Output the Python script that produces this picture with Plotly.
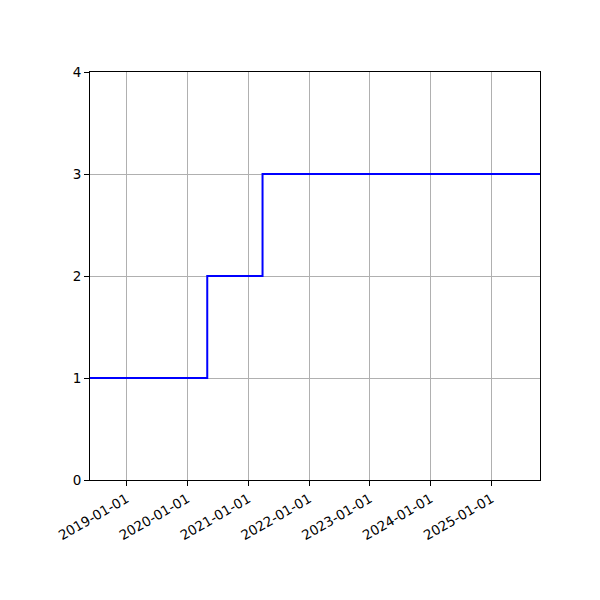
import plotly.graph_objects as go

# step data (value holds until next date)
dates = ["2018-05-27", "2020-04-30", "2021-03-28", "2025-10-19"]
values = [1, 2, 3, 3]
tick_dates = ["2019-01-01", "2020-01-01", "2021-01-01", "2022-01-01",
              "2023-01-01", "2024-01-01", "2025-01-01"]

fig = go.Figure()
fig.add_trace(go.Scatter(x=dates, y=values, mode='lines', line_shape='hv',
                         line=dict(color='#0000ff', width=2), showlegend=False))

axis_common = dict(
    showline=True, linecolor='black', linewidth=1, mirror=True,
    ticks='outside', ticklen=5, tickwidth=1, tickcolor='black',
    showgrid=True, gridcolor='#b0b0b0', gridwidth=1,
    zeroline=False, automargin=False,
    tickfont=dict(family='DejaVu Sans', size=13.5, color='black'),
)

# page body adds an 8px offset, margins compensate for it
fig.update_layout(
    width=600, height=600,
    margin=dict(l=82, r=68, t=64, b=128),
    plot_bgcolor='white', paper_bgcolor='white',
    xaxis=dict(type='date', range=[dates[0], dates[-1]],
               tickvals=tick_dates, ticktext=tick_dates, tickangle=-30,
               **axis_common),
    yaxis=dict(range=[0, 4], tickvals=[0, 1, 2, 3, 4], **axis_common),
)

fig.write_html("out.html")
